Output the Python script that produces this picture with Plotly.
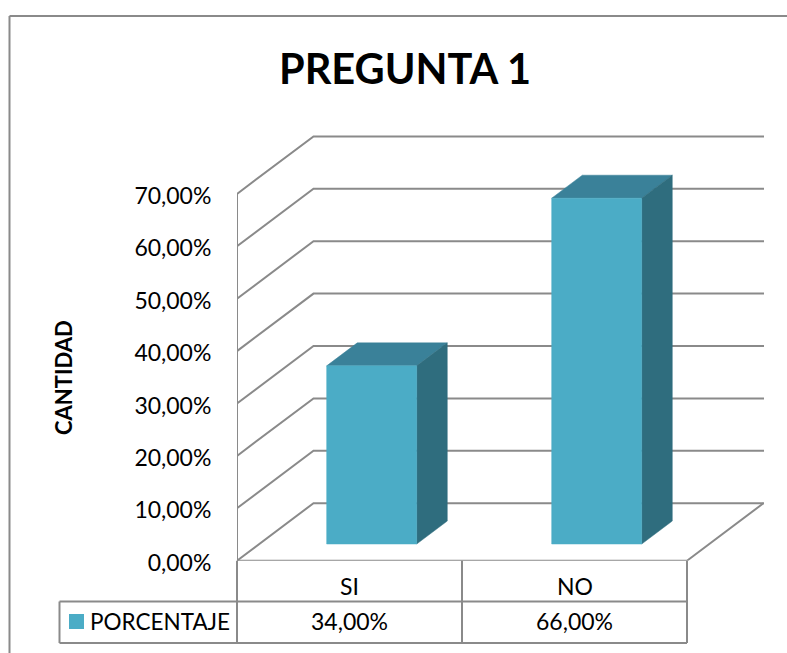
import plotly.graph_objects as go

# ---- data ----
categories = ["SI", "NO"]
values = [34.0, 66.0]
series_name = "PORCENTAJE"
tick_values = [0, 10, 20, 30, 40, 50, 60, 70]
title_text = "PREGUNTA 1"
axis_title = "CANTIDAD"

# ---- styles / layout constants ----
W, H = 787, 653
FONT = "Lato"
FRONT, TOP, SIDE = "#4BACC6", "#3A8199", "#2F6D7E"
LINE = "#8A8A8A"
X0, X_END, X_CAT_END = 237, 764, 687     # pixels
Y0, Y_END = 560.7, 135                   # pixels
CAT_W = 225.0                            # px per category
PX_PER_PCT = 5.24
DEPTH_X = 76.5 / CAT_W                   # oblique shift of full depth, in category units
DEPTH_Y = 57.5 / PX_PER_PCT              # oblique shift of full depth, in % units
BAR_W = 0.40
BAR_D0, BAR_D1 = 0.29, 0.69              # bar front / back depth fractions


def px(x):
    return x / W


def py(y):
    return 1 - y / H


def P(cat, pct, depth):
    """Oblique projection to the 2D axes."""
    return cat + depth * DEPTH_X, pct + depth * DEPTH_Y


def poly(points, color):
    pts = [P(*p) for p in points]
    return go.Scatter(
        x=[p[0] for p in pts] + [pts[0][0]],
        y=[p[1] for p in pts] + [pts[0][1]],
        mode="lines", fill="toself", fillcolor=color,
        line=dict(color=color, width=0.5), hoverinfo="skip", showlegend=False,
    )


def polyline(points, width=2):
    pts = [P(*p) for p in points]
    return go.Scatter(
        x=[p[0] for p in pts], y=[p[1] for p in pts], mode="lines",
        line=dict(color=LINE, width=width), hoverinfo="skip", showlegend=False,
        cliponaxis=False,
    )


fig = go.Figure()
n = len(categories)
x_far = (X_END - X0) / CAT_W - DEPTH_X

# walls: gridlines
for t in tick_values:
    fig.add_trace(polyline([(0, t, 0), (0, t, 1), (x_far, t, 1)]))
# left wall edge and floor
fig.add_trace(polyline([(0, tick_values[0], 0), (0, tick_values[-1], 0)]))
fig.add_trace(polyline([(0, 0, 0), (n, 0, 0), (n, 0, 1)]))

# bars
for i, v in enumerate(values):
    c = i + 0.5
    a, b = c - BAR_W / 2, c + BAR_W / 2
    fig.add_trace(poly([(a, v, BAR_D0), (a, v, BAR_D1), (b, v, BAR_D1), (b, v, BAR_D0)], TOP))
    fig.add_trace(poly([(b, 0, BAR_D0), (b, 0, BAR_D1), (b, v, BAR_D1), (b, v, BAR_D0)], SIDE))
    fig.add_trace(poly([(a, 0, BAR_D0), (b, 0, BAR_D0), (b, v, BAR_D0), (a, v, BAR_D0)], FRONT))

shapes = []


def seg(x0, y0, x1, y1, width=2):
    shapes.append(dict(type="line", xref="paper", yref="paper",
                       x0=px(x0), y0=py(y0), x1=px(x1), y1=py(y1),
                       line=dict(color=LINE, width=width)))


# outer chart frame
seg(9.5, 16, W + 2, 16)
seg(9.5, 16, 9.5, H + 2)
# data table
ROW1, ROW2, ROW3 = 560.7, 601.5, 643
for k in range(n + 1):
    xk = X0 + k * CAT_W
    seg(xk, ROW1, xk, ROW3)
seg(59.5, ROW2, X_CAT_END, ROW2)
seg(59.5, ROW3, X_CAT_END, ROW3)
seg(59.5, ROW2, 59.5, ROW3)
# legend key
shapes.append(dict(type="rect", xref="paper", yref="paper", x0=px(69), x1=px(84),
                   y0=py(629), y1=py(614), fillcolor=FRONT, line=dict(width=0)))

annotations = []


def label(text, x, y, size, bold=False, angle=0, anchor="center"):
    annotations.append(dict(
        text=f"<b>{text}</b>" if bold else text, xref="paper", yref="paper",
        x=px(x), y=py(y), xanchor=anchor, yanchor="middle", showarrow=False,
        textangle=angle, font=dict(family=FONT, size=size, color="#000000"),
    ))


label(title_text, 404.5, 68, 41.5, bold=True)
label(axis_title, 63, 378, 22, bold=True, angle=-90)
label(series_name, 88, 621, 22.5, anchor="left")
for i, (cat, v) in enumerate(zip(categories, values)):
    xc = X0 + (i + 0.5) * CAT_W
    label(cat, xc, 586, 23)
    label(f"{v:.2f}%".replace(".", ","), xc, 621, 23)

fig.update_layout(
    width=W, height=H, margin=dict(l=0, r=0, t=0, b=0),
    paper_bgcolor="white", plot_bgcolor="white", showlegend=False,
    shapes=shapes, annotations=annotations,
    xaxis=dict(domain=[px(X0), px(X_END)], range=[0, (X_END - X0) / CAT_W],
               visible=False, fixedrange=True, automargin=False),
    yaxis=dict(domain=[py(Y0), py(Y_END)], range=[0, (Y0 - Y_END) / PX_PER_PCT],
               tickmode="array", tickvals=tick_values,
               ticktext=[f"{t:.2f}%".replace(".", ",") for t in tick_values],
               ticks="outside", ticklen=20, tickcolor="rgba(0,0,0,0)", showline=False,
               ticklabelshift=2,
               showgrid=False, zeroline=False, fixedrange=True, automargin=False,
               tickfont=dict(family=FONT, size=23, color="#000000")),
)

fig.write_html("out.html", config=dict(displayModeBar=False),
               post_script="document.body.style.margin='0';document.body.style.overflow='hidden';")
